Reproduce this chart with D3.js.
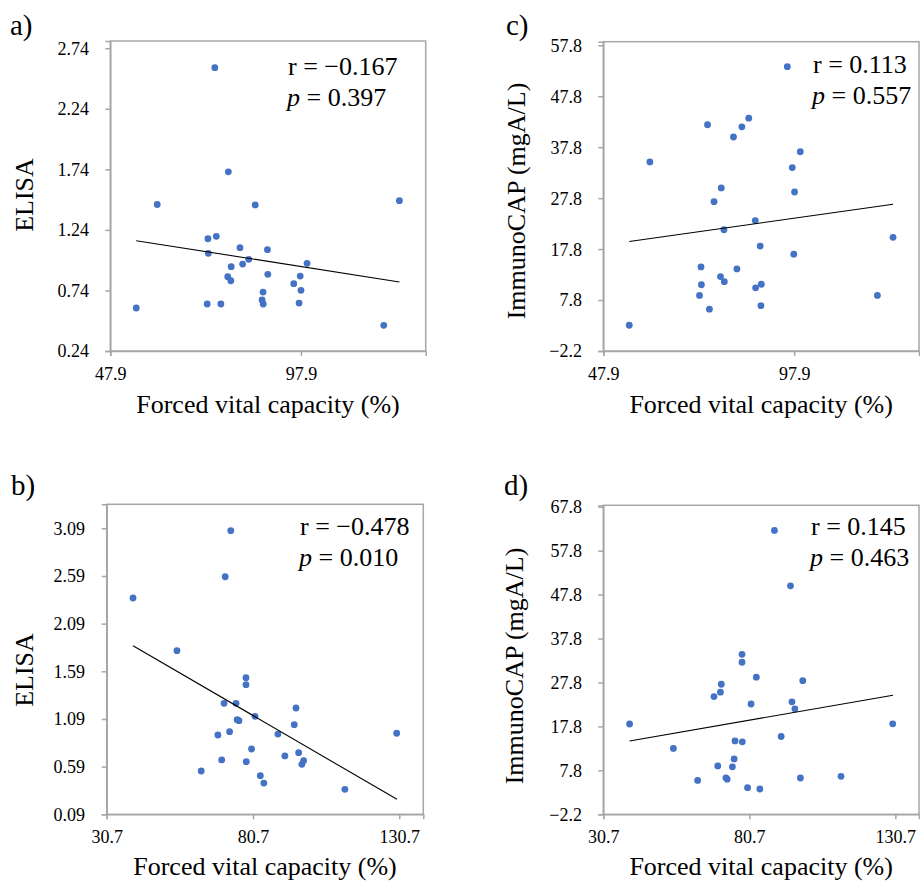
<!DOCTYPE html>
<html>
<head>
<meta charset="utf-8">
<script src="https://cdn.jsdelivr.net/npm/d3@7"></script>
<style>
  html, body { margin: 0; padding: 0; background: #fff; }
  svg { display: block; }
  svg text { font-family: "Liberation Serif", "DejaVu Serif", serif; fill: #000; }
</style>
</head>
<body>
<svg id="chart" width="920" height="881"></svg>
<script>
// ---------- DATA ----------
// Panel a: FVC (%) vs ELISA
const fvcA   = [75.3, 78.85, 60.2, 85.9, 123.7, 73.5, 75.7, 73.6, 81.9, 89.1, 84.2, 82.6, 79.6, 99.5,
                78.7, 79.5, 89.2, 97.7, 96.0, 97.9, 87.95, 87.7, 88.0, 97.4, 73.3, 76.9, 54.7, 119.6];
const elisaA = [2.58, 1.72, 1.45, 1.446, 1.481, 1.167, 1.187, 1.047, 1.093, 1.077, 0.997, 0.958, 0.936, 0.964,
                0.854, 0.820, 0.873, 0.859, 0.796, 0.741, 0.727, 0.661, 0.628, 0.636, 0.628, 0.628, 0.595, 0.452];
const trendA = [[54.7, 1.151], [123.7, 0.810]];

// Panel c: FVC (%) vs ImmunoCAP
const fvcC = [96.1, 86.0, 75.2, 84.2, 82.0, 60.1, 99.5, 97.4, 98.0, 78.8, 76.9, 87.7, 79.5, 123.8,
              89.0, 97.8, 73.5, 82.9, 78.6, 79.6, 73.6, 89.3, 87.8, 73.1, 119.7, 89.2, 75.7, 54.7];
const capC = [53.6, 43.5, 42.2, 41.8, 39.8, 34.9, 36.9, 33.8, 29.0, 29.8, 27.1, 23.4, 21.6, 20.1,
              18.4, 16.8, 14.3, 13.9, 12.4, 11.4, 10.8, 10.9, 10.2, 8.7, 8.7, 6.7, 6.0, 2.85];
const trendC = [[54.7, 19.3], [123.8, 26.6]];

// Panel b: FVC (%) vs ELISA
const fvcB   = [73.1, 71.2, 39.7, 54.7, 78.3, 78.3, 70.8, 74.9, 95.4, 81.4, 75.3, 75.9, 94.8, 72.7,
                68.7, 89.2, 129.8, 80.2, 96.3, 91.6, 70.0, 78.4, 98.0, 97.4, 63.0, 83.2, 84.4, 112.1];
const elisaB = [3.065, 2.582, 2.359, 1.806, 1.523, 1.450, 1.254, 1.254, 1.205, 1.118, 1.082, 1.072, 1.030, 0.957,
                0.922, 0.932, 0.940, 0.775, 0.736, 0.702, 0.660, 0.642, 0.652, 0.614, 0.544, 0.495, 0.418, 0.352];
const trendB = [[39.7, 1.859], [129.9, 0.247]];

// Panel d: FVC (%) vs ImmunoCAP
const fvcD = [89.3, 94.8, 78.2, 78.2, 83.1, 99.0, 71.1, 70.8, 68.6, 95.3, 81.3, 96.3, 39.7, 129.8,
              91.6, 75.8, 78.3, 54.7, 75.5, 69.9, 74.9, 63.0, 72.7, 73.1, 98.2, 112.1, 80.1, 84.3];
const capD = [62.4, 49.8, 34.2, 32.4, 29.0, 28.2, 27.4, 25.6, 24.6, 23.4, 22.9, 21.8, 18.35, 18.4,
              15.5, 14.5, 14.3, 12.8, 10.4, 8.8, 8.6, 5.5, 6.1, 5.8, 6.06, 6.45, 3.85, 3.56];
const trendD = [[39.7, 14.5], [129.9, 24.9]];

// Tick labels
const xTicksTop    = [47.9, 97.9];
const xTicksBottom = [30.7, 80.7, 130.7];
const yTicksA = [0.24, 0.74, 1.24, 1.74, 2.24, 2.74];
const yTicksC = [-2.2, 7.8, 17.8, 27.8, 37.8, 47.8, 57.8];
const yTicksB = [0.09, 0.59, 1.09, 1.59, 2.09, 2.59, 3.09];
const yTicksD = [-2.2, 7.8, 17.8, 27.8, 37.8, 47.8, 57.8, 67.8];

// Texts
const xTitle = "Forced vital capacity (%)";
const panels = [
  { label: "a)", yTitle: "ELISA", r: "r = \u22120.167", p: "0.397", fmt: 2,
    xs: fvcA, ys: elisaA, trend: trendA, xTicks: xTicksTop, yTicks: yTicksA,
    xDom: [47.9, 130.6], yDom: [0.24, 2.80],
    box: {l: 110.3, r: 425.7, t: 41, b: 351},
    lab: {x: 10, y: 35}, yt: {x: 33, y: 195}, stat: {x: 288, y1: 75, y2: 106},
    ytx: 89, xtb: 380, xttl: 413 },
  { label: "c)", yTitle: "ImmunoCAP (mgA/L)", r: "r = 0.113", p: "0.557", fmt: 1,
    xs: fvcC, ys: capC, trend: trendC, xTicks: xTicksTop, yTicks: yTicksC,
    xDom: [47.9, 130.6], yDom: [-2.2, 58.5],
    box: {l: 603.3, r: 919, t: 41.7, b: 351},
    lab: {x: 506, y: 35}, yt: {x: 525, y: 201}, stat: {x: 813, y1: 73, y2: 104},
    ytx: 582, xtb: 380, xttl: 413 },
  { label: "b)", yTitle: "ELISA", r: "r = \u22120.478", p: "0.010", fmt: 2,
    xs: fvcB, ys: elisaB, trend: trendB, xTicks: xTicksBottom, yTicks: yTicksB,
    xDom: [30.7, 138.9], yDom: [0.09, 3.342],
    box: {l: 106.7, r: 423.3, t: 504.3, b: 814.3},
    lab: {x: 11, y: 495}, yt: {x: 33, y: 670}, stat: {x: 300, y1: 535, y2: 566},
    ytx: 85, xtb: 843, xttl: 875 },
  { label: "d)", yTitle: "ImmunoCAP (mgA/L)", r: "r = 0.145", p: "0.463", fmt: 1,
    xs: fvcD, ys: capD, trend: trendD, xTicks: xTicksBottom, yTicks: yTicksD,
    xDom: [30.7, 138.8], yDom: [-2.2, 68.12],
    box: {l: 603.3, r: 919, t: 505.3, b: 814.3},
    lab: {x: 504, y: 495}, yt: {x: 523, y: 666}, stat: {x: 811, y1: 535, y2: 566},
    ytx: 582, xtb: 843, xttl: 875 }
];

// ---------- DRAW ----------
const FONT = '"Liberation Serif", "DejaVu Serif", serif';
const svg = d3.select("#chart").attr("font-family", FONT);
const GREY = "#a6a6a6";
const BLUE = "#4472C4";

panels.forEach(P => {
  const g = svg.append("g").attr("font-family", FONT);
  const x = d3.scaleLinear().domain(P.xDom).range([P.box.l, P.box.r]);
  const y = d3.scaleLinear().domain(P.yDom).range([P.box.b, P.box.t]);

  g.append("rect")
    .attr("x", P.box.l).attr("y", P.box.t)
    .attr("width", P.box.r - P.box.l).attr("height", P.box.b - P.box.t)
    .attr("fill", "none").attr("stroke", GREY).attr("stroke-width", 1.5);

  const yAxis = d3.axisLeft(y).tickValues(P.yTicks)
    .tickFormat(d => d3.format("." + P.fmt + "f")(d)).tickSize(5).tickPadding(0);
  const ya = g.append("g").attr("transform", `translate(${P.box.l},0)`).call(yAxis)
    .attr("font-family", FONT).attr("font-size", 18);
  ya.select(".domain").attr("stroke", GREY).attr("stroke-width", 1.5);
  ya.selectAll(".tick line").attr("stroke", GREY).attr("stroke-width", 1.5);
  ya.selectAll(".tick text")
    .attr("x", P.ytx - P.box.l).attr("dy", "0.33em").attr("fill", "#000");

  const xAxis = d3.axisBottom(x).tickValues(P.xTicks)
    .tickFormat(d3.format(".1f")).tickSize(5).tickPadding(0);
  const xa = g.append("g").attr("transform", `translate(0,${P.box.b})`).call(xAxis)
    .attr("font-family", FONT).attr("font-size", 18);
  xa.select(".domain").attr("stroke", GREY).attr("stroke-width", 1.5);
  xa.selectAll(".tick line").attr("stroke", GREY).attr("stroke-width", 1.5);
  xa.selectAll(".tick text")
    .attr("y", P.xtb - P.box.b).attr("dy", 0).attr("fill", "#000");

  const pts = P.xs.map((v, i) => [v, P.ys[i]]);
  g.append("g").selectAll("circle").data(pts).join("circle")
    .attr("cx", d => x(d[0])).attr("cy", d => y(d[1]))
    .attr("r", 3.4).attr("fill", BLUE);

  g.append("path")
    .attr("d", d3.line().x(d => x(d[0])).y(d => y(d[1]))(P.trend))
    .attr("fill", "none").attr("stroke", "#000").attr("stroke-width", 1.1);

  g.append("text").attr("x", P.lab.x).attr("y", P.lab.y)
    .attr("font-size", 29).text(P.label);

  g.append("text")
    .attr("transform", `translate(${P.yt.x},${P.yt.y}) rotate(-90)`)
    .attr("text-anchor", "middle").attr("font-size", 26).text(P.yTitle);

  g.append("text").attr("x", (P.box.l + P.box.r) / 2).attr("y", P.xttl)
    .attr("text-anchor", "middle").attr("font-size", 26).text(xTitle);

  g.append("text").attr("x", P.stat.x).attr("y", P.stat.y1)
    .attr("font-size", 26).text(P.r);
  const pt = g.append("text").attr("x", P.stat.x - 1).attr("y", P.stat.y2)
    .attr("font-size", 26);
  pt.append("tspan").attr("font-style", "italic").text("p");
  pt.append("tspan").text(" = " + P.p);
});
</script>
</body>
</html>
